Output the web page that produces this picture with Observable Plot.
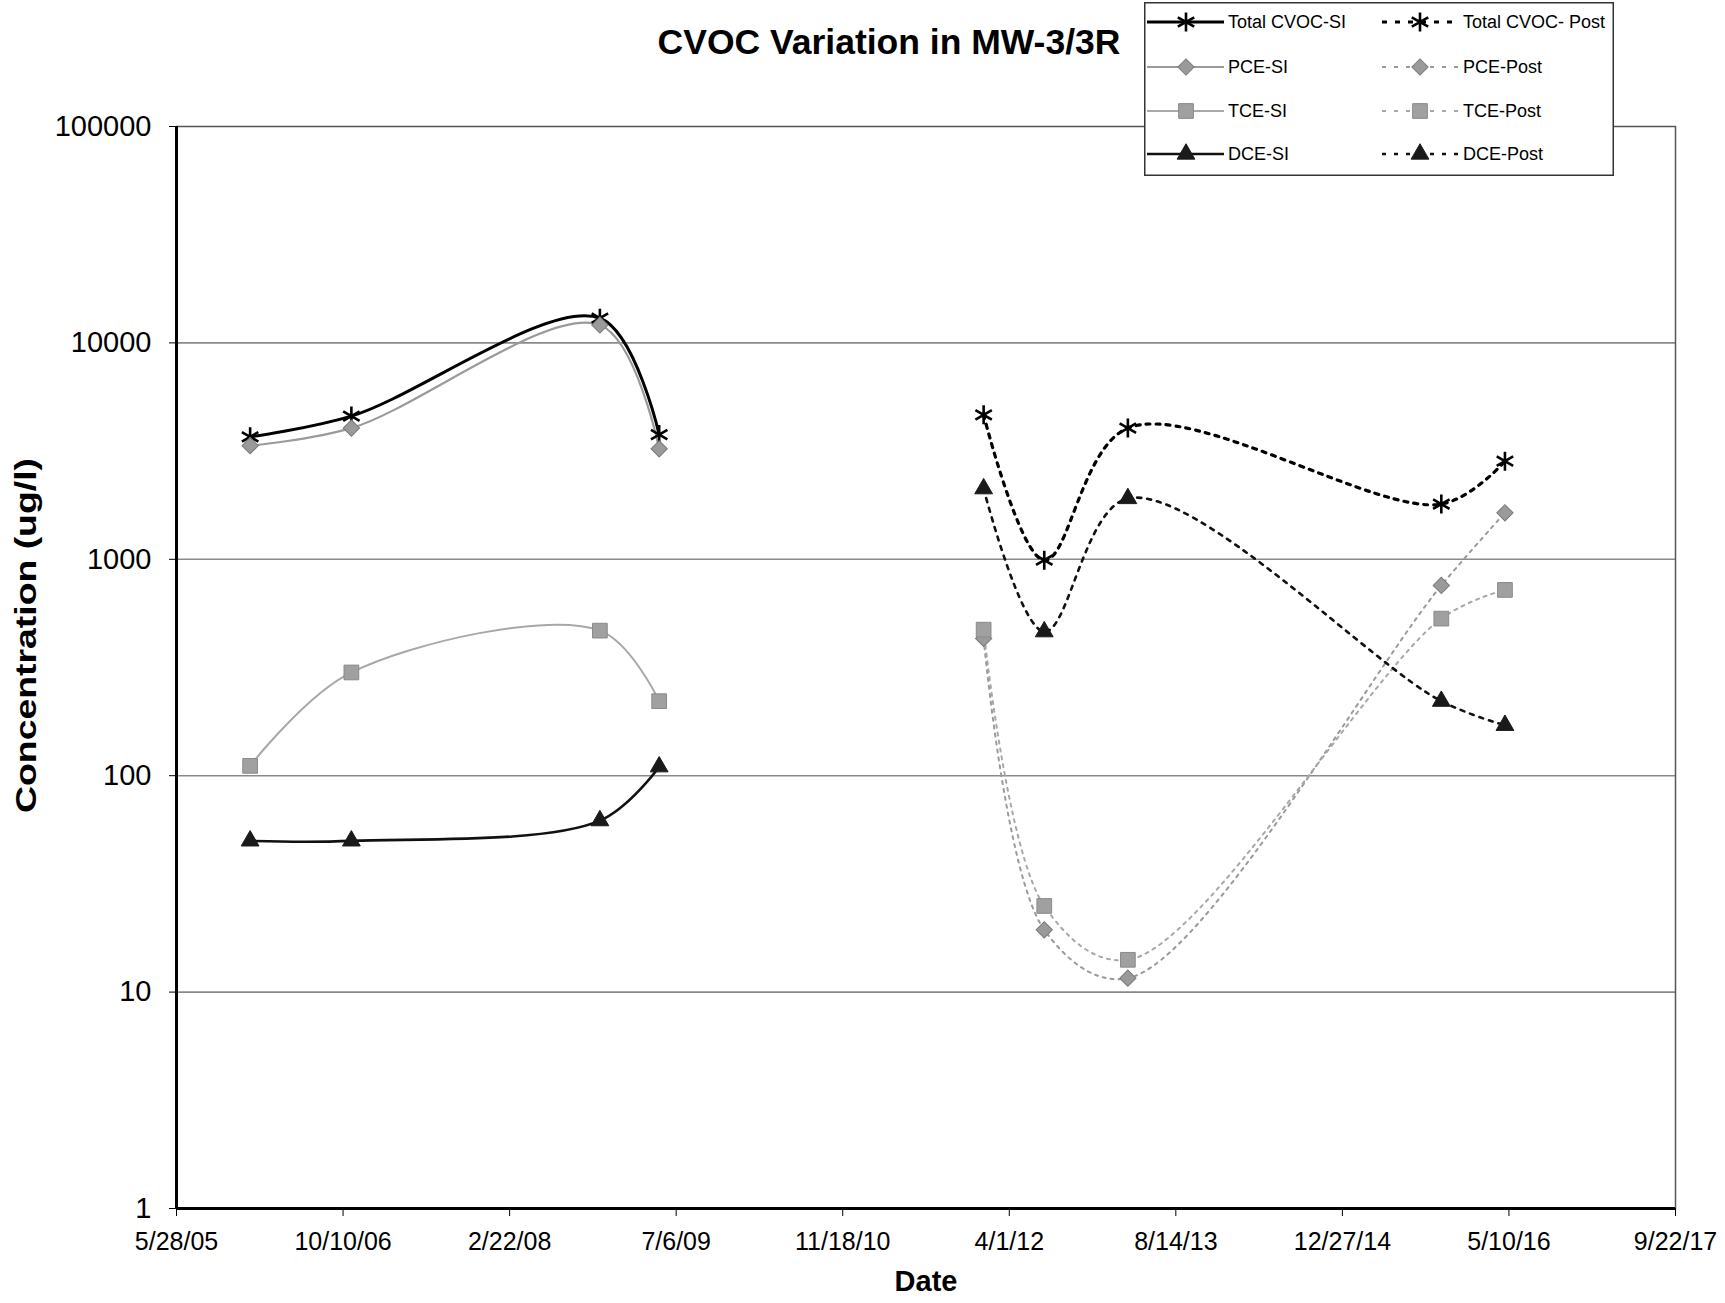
<!DOCTYPE html>
<html>
<head>
<meta charset="utf-8">
<script src="https://cdn.jsdelivr.net/npm/d3@7"></script>
<script src="https://cdn.jsdelivr.net/npm/@observablehq/plot@0.6"></script>
<style>
  body { margin: 0; background: #fff; }
  #wrap { position: relative; width: 1725px; height: 1303px; font-family: Arial, "Liberation Sans", sans-serif; }
  #title { position: absolute; left: 489px; top: 22px; width: 800px; text-align: center; font-size: 35.5px; font-weight: bold; line-height: 40px; color: #000; }
  #legend { position: absolute; left: 1144px; top: 2px; }
  #chart { position: absolute; left: 0; top: 0; }
</style>
</head>
<body>
<div id="wrap">
  <div id="chart"></div>
  <div id="title">CVOC Variation in MW-3/3R</div>
  <div id="legend"></div>
</div>
<script>
// ---- Data ----
const siDates   = ["2006-01-04", "2006-11-04", "2008-11-19", "2009-05-16"];
const postDates = ["2012-01-15", "2012-07-15", "2013-03-23", "2015-10-20", "2016-04-28"];

const totalSI   = [3680, 4590, 13000, 3770];
const pceSI     = [3350, 4040, 12100, 3240];
const tceSI     = [111, 300, 468, 221];
const dceSI     = [50, 50, 62, 110];

const totalPost = [4650, 990, 4040, 1800, 2840];
const pcePost   = [431, 19.4, 11.6, 757, 1640];
const tcePost   = [473, 25, 14.1, 532, 722];
const dcePost   = [2120, 463, 1910, 221, 171];

const xTickLabels = ["5/28/05", "10/10/06", "2/22/08", "7/6/09", "11/18/10", "4/1/12", "8/14/13", "12/27/14", "5/10/16", "9/22/17"];
const yTicks = [1, 10, 100, 1000, 10000, 100000];
const yAxisTitle = "Concentration (ug/l)";
const xAxisTitle = "Date";

// ---- Series definitions (styles kept separate from values) ----
const series = [
  {name: "Total CVOC-SI",    dates: siDates,   values: totalSI,   stroke: "#000", width: 3,   dash: null,  symbol: "asterisk", r: 9,   fill: "none", mstroke: "#000", mwidth: 2.6, rotate: 0},
  {name: "PCE-SI",           dates: siDates,   values: pceSI,     stroke: "#9a9a9a", width: 2.2, dash: null, symbol: "square", r: 6.5, fill: "#9a9a9a", mstroke: "#7a7a7a", mwidth: 1, rotate: 45},
  {name: "TCE-SI",           dates: siDates,   values: tceSI,     stroke: "#a8a8a8", width: 2, dash: null,  symbol: "square", r: 8.3, fill: "#a0a0a0", mstroke: "#8a8a8a", mwidth: 1, rotate: 0},
  {name: "DCE-SI",           dates: siDates,   values: dceSI,     stroke: "#111", width: 2.6, dash: null,  symbol: "triangle", r: 6.6, fill: "#1a1a1a", mstroke: "#1a1a1a", mwidth: 1, rotate: 0},
  {name: "Total CVOC- Post", dates: postDates, values: totalPost, stroke: "#000", width: 3.2, dash: "4,6", symbol: "asterisk", r: 9,   fill: "none", mstroke: "#000", mwidth: 2.6, rotate: 0},
  {name: "PCE-Post",         dates: postDates, values: pcePost,   stroke: "#9a9a9a", width: 2, dash: "3,5", symbol: "square", r: 6.5, fill: "#9a9a9a", mstroke: "#7a7a7a", mwidth: 1, rotate: 45},
  {name: "TCE-Post",         dates: postDates, values: tcePost,   stroke: "#a8a8a8", width: 2, dash: "3,5", symbol: "square", r: 8.3, fill: "#a0a0a0", mstroke: "#8a8a8a", mwidth: 1, rotate: 0},
  {name: "DCE-Post",         dates: postDates, values: dcePost,   stroke: "#111", width: 2.6, dash: "4,6", symbol: "triangle", r: 6.6, fill: "#1a1a1a", mstroke: "#1a1a1a", mwidth: 1, rotate: 0}
];

const parseLabel = s => { const [m, d, y] = s.split("/").map(Number); return new Date(Date.UTC(2000 + y, m - 1, d)); };
const xTicks = xTickLabels.map(parseLabel);
const labelByTime = new Map(xTicks.map((d, i) => [+d, xTickLabels[i]]));

const rowsFor = s => s.dates.map((d, i) => ({series: s.name, date: new Date(d + "T00:00:00Z"), value: s.values[i]}));

const lineMarks = series.map(s => Plot.line(rowsFor(s), {
  x: "date", y: "value", curve: "catmull-rom",
  stroke: s.stroke, strokeWidth: s.width, strokeDasharray: s.dash || undefined
}));
const dotMarks = series.map(s => Plot.dot(rowsFor(s), {
  x: "date", y: "value", symbol: s.symbol, r: s.r, rotate: s.rotate,
  fill: s.fill, stroke: s.mstroke, strokeWidth: s.mwidth
}));

const chart = Plot.plot({
  width: 1725, height: 1303,
  marginLeft: 176, marginRight: 50, marginTop: 126, marginBottom: 95,
  style: {fontFamily: "Arial, 'Liberation Sans', sans-serif", background: "white", color: "black"},
  x: {type: "utc", domain: [xTicks[0], xTicks[xTicks.length - 1]]},
  y: {type: "log", domain: [yTicks[0], yTicks[yTicks.length - 1]]},
  marks: [
    Plot.ruleY(yTicks.slice(1, -1), {stroke: "#8a8a8a", strokeWidth: 1.6}),
    Plot.frame({stroke: "#555", strokeWidth: 1.5}),
    ...lineMarks,
    ...dotMarks,
    Plot.axisX({ticks: xTicks, tickFormat: d => labelByTime.get(+d), tickSize: 8, tickPadding: 16, fontSize: 25, label: null}),
    Plot.axisY({ticks: yTicks, tickFormat: d => String(d), tickSize: 7, tickPadding: 18, fontSize: 29, label: null}),
    Plot.ruleX([xTicks[0]], {stroke: "#000", strokeWidth: 3}),
    Plot.ruleY([yTicks[0]], {stroke: "#000", strokeWidth: 3}),
    Plot.text([yAxisTitle], {frameAnchor: "left", textAnchor: "middle", dx: -150, dy: -32, rotate: -90, fontWeight: "bold", fontSize: 30, className: "ytitle"}),
    Plot.text([xAxisTitle], {frameAnchor: "bottom", dy: 82, fontWeight: "bold", fontSize: 29})
  ]
});
document.getElementById("chart").appendChild(chart);
// stretch the y-axis title to the length seen in the reference
d3.select(chart).selectAll("text").filter(function() { return this.textContent === yAxisTitle; })
  .attr("textLength", 355).attr("lengthAdjust", "spacingAndGlyphs");

// ---- Legend ----
const symbolMap = {asterisk: d3.symbolAsterisk, square: d3.symbolSquare, triangle: d3.symbolTriangle};
const lw = 470, lh = 174;
const lsvg = d3.select("#legend").append("svg").attr("width", lw).attr("height", lh)
  .style("font-family", "Arial, 'Liberation Sans', sans-serif");
lsvg.append("rect").attr("x", 0.75).attr("y", 0.75).attr("width", lw - 1.5).attr("height", lh - 1.5)
  .attr("fill", "white").attr("stroke", "#333").attr("stroke-width", 1.5);
const rowY = [20, 65, 109, 152];
const cols = [{x0: 3, x1: 80, mx: 42, tx: 84}, {x0: 238, x1: 315, mx: 276, tx: 319}];
series.forEach((s, i) => {
  const c = cols[i < 4 ? 0 : 1];
  const y = rowY[i % 4];
  const g = lsvg.append("g");
  g.append("line").attr("x1", c.x0).attr("x2", c.x1).attr("y1", y).attr("y2", y)
    .attr("stroke", s.stroke).attr("stroke-width", s.width)
    .attr("stroke-dasharray", s.dash ? (i === 4 ? "5,8" : "4,8") : null);
  g.append("path").attr("d", d3.symbol(symbolMap[s.symbol], Math.PI * s.r * s.r)())
    .attr("transform", `translate(${c.mx},${y}) rotate(${s.rotate})`)
    .attr("fill", s.fill).attr("stroke", s.mstroke).attr("stroke-width", s.mwidth);
  g.append("text").attr("x", c.tx).attr("y", y).attr("dy", "0.35em")
    .attr("font-size", 18).attr("fill", "#000").text(s.name);
});
</script>
</body>
</html>
